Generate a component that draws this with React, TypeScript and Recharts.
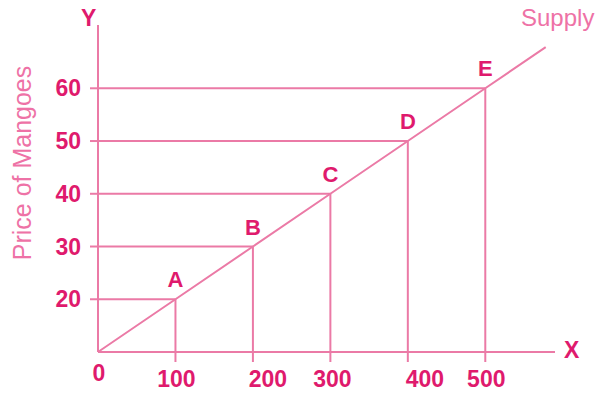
import React from 'react';
import {
  LineChart,
  Line,
  XAxis,
  YAxis,
  ReferenceLine,
  ReferenceDot,
} from 'recharts';

// quantity supplied and price of mangoes at each marked point
const pointNames = ['A', 'B', 'C', 'D', 'E'];
const quantities = [100, 200, 300, 400, 500];
const prices = [20, 30, 40, 50, 60];

// supply curve runs from the origin through A..E and a bit beyond E
const curveQuantities = [0, 100, 200, 300, 400, 500, 578];
const curvePrices = [10, 20, 30, 40, 50, 60, 67.8];

const xTicks = [0, 100, 200, 300, 400, 500];
const yTicks = [20, 30, 40, 50, 60];

const supplyData = curveQuantities.map((q, i) => ({ q, p: curvePrices[i] }));

const LINE = '#eb7aa6';
const DARK = '#df1a6d';
const LIGHT = '#ee72a6';
const FONT = '"Liberation Sans", Arial, sans-serif';

// the hand-set labels under 200 and 400 sit a little right of their ticks
const xLabelShift: Record<number, number> = { 100: 1, 200: 15, 300: 2, 400: 17, 500: 1 };

const XTick = (props: any) => {
  const { x, y, payload } = props;
  if (payload.value === 0) {
    return (
      <text x={x + 1} y={y + 29} textAnchor="middle" fill={DARK} fontSize={23} fontWeight={700} fontFamily={FONT}>
        0
      </text>
    );
  }
  return (
    <g>
      <line x1={x} y1={y} x2={x} y2={y + 10} stroke={LINE} strokeWidth={2} />
      <text
        x={x + (xLabelShift[payload.value] || 0)}
        y={y + 35}
        textAnchor="middle"
        fill={DARK}
        fontSize={23}
        fontWeight={700}
        fontFamily={FONT}
      >
        {payload.value}
      </text>
    </g>
  );
};

const YTick = (props: any) => {
  const { x, y, payload } = props;
  return (
    <g>
      <line x1={x} y1={y} x2={x - 8} y2={y} stroke={LINE} strokeWidth={2} />
      <text x={x - 17} y={y + 8} textAnchor="end" fill={DARK} fontSize={23} fontWeight={700} fontFamily={FONT}>
        {payload.value}
      </text>
    </g>
  );
};

export default function App() {
  return (
    <div style={{ position: 'absolute', left: 0, top: 0, width: 600, height: 394, background: '#fff', fontFamily: FONT }}>
      <LineChart
        width={600}
        height={394}
        data={supplyData}
        margin={{ top: 25, right: 45, bottom: 12, left: 38 }}
      >
        <XAxis
          dataKey="q"
          type="number"
          domain={[0, 590]}
          ticks={xTicks}
          height={30}
          tickSize={0}
          tickMargin={0}
          tickLine={false}
          axisLine={{ stroke: LINE, strokeWidth: 2 }}
          tick={<XTick />}
          interval={0}
        />
        <YAxis
          type="number"
          domain={[10, 72]}
          ticks={yTicks}
          width={60}
          tickSize={0}
          tickMargin={0}
          tickLine={false}
          axisLine={{ stroke: LINE, strokeWidth: 2 }}
          tick={<YTick />}
          interval={0}
        />
        {quantities.map((q, i) => (
          <ReferenceLine
            key={'h' + q}
            segment={[{ x: 0, y: prices[i] }, { x: q, y: prices[i] }]}
            stroke={LINE}
            strokeWidth={2}
          />
        ))}
        {quantities.map((q, i) => (
          <ReferenceLine
            key={'v' + q}
            segment={[{ x: q, y: 10 }, { x: q, y: prices[i] }]}
            stroke={LINE}
            strokeWidth={2}
          />
        ))}
        <Line
          dataKey="p"
          type="linear"
          stroke={LINE}
          strokeWidth={2}
          dot={false}
          isAnimationActive={false}
        />
        {quantities.map((q, i) => (
          <ReferenceDot
            key={'d' + q}
            x={q}
            y={prices[i]}
            r={0}
            stroke="none"
            fill="none"
            label={{
              value: pointNames[i],
              position: 'top',
              offset: 12,
              fill: DARK,
              fontSize: 22,
              fontWeight: 700,
              fontFamily: FONT,
            }}
          />
        ))}
      </LineChart>
      <div style={{ position: 'absolute', left: 81, top: 4, color: DARK, fontSize: 23, fontWeight: 700, lineHeight: '28px' }}>
        Y
      </div>
      <div style={{ position: 'absolute', left: 564, top: 336, color: DARK, fontSize: 23, fontWeight: 700, lineHeight: '28px' }}>
        X
      </div>
      <div style={{ position: 'absolute', left: 521, top: 4, color: LIGHT, fontSize: 24, lineHeight: '28px' }}>
        Supply
      </div>
      <div
        style={{
          position: 'absolute',
          left: 22,
          top: 163,
          transform: 'translate(-50%, -50%) rotate(-90deg)',
          color: LIGHT,
          fontSize: 25,
          whiteSpace: 'nowrap',
          lineHeight: '28px',
        }}
      >
        Price of Mangoes
      </div>
    </div>
  );
}
